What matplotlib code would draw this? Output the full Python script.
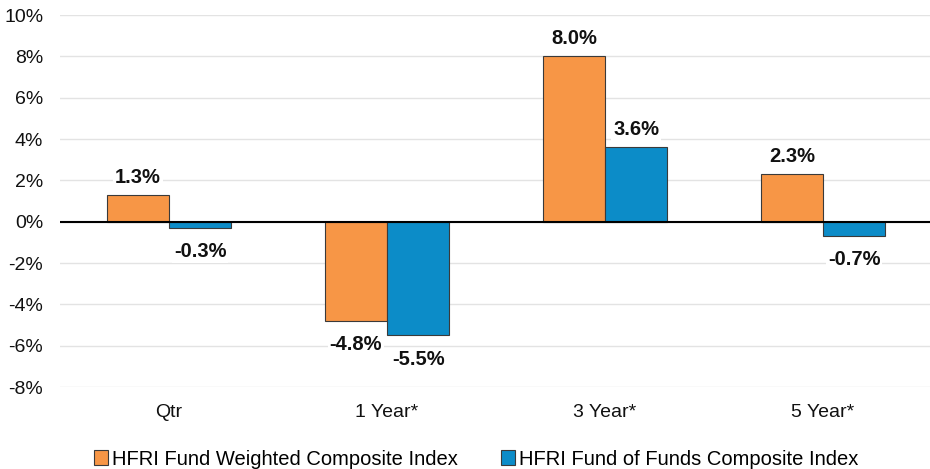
import matplotlib
matplotlib.use("Agg")
import matplotlib.pyplot as plt
import numpy as np

categories = ["Qtr", "1 Year*", "3 Year*", "5 Year*"]
fund_weighted = [1.3, -4.8, 8.0, 2.3]
fund_of_funds = [-0.3, -5.5, 3.6, -0.7]
series_names = ["HFRI Fund Weighted Composite Index", "HFRI Fund of Funds Composite Index"]
yticks = [-8, -6, -4, -2, 0, 2, 4, 6, 8, 10]

plt.rcParams['font.family'] = ['Liberation Sans', 'DejaVu Sans']

fig = plt.figure(figsize=(9.3, 4.69), dpi=100)
ax = fig.add_axes([60/930, 1 - 387/469, 1 - 60/930 + 2/930, (387 - 15)/469])

x = np.arange(len(categories))
w = 0.285
colors = ["#F79646", "#0C8CC8"]
b1 = ax.bar(x - w/2, fund_weighted, w, color=colors[0], edgecolor="#3a3a3a", linewidth=0.8, label=series_names[0], zorder=3)
b2 = ax.bar(x + w/2, fund_of_funds, w, color=colors[1], edgecolor="#3a3a3a", linewidth=0.8, label=series_names[1], zorder=3)

for bars, vals in ((b1, fund_weighted), (b2, fund_of_funds)):
    for b, v in zip(bars, vals):
        off = 0.85 if v >= 0 else -1.15
        ax.text(b.get_x() + b.get_width()/2, v + off, f"{v:.1f}%", ha="center", va="center",
                fontsize=14.5, fontweight="bold", color="#111111", zorder=4,
                bbox=dict(facecolor="white", edgecolor="none", pad=1.5))

ax.set_ylim(-8, 10)
ax.set_xlim(-0.5, 3.5)
ax.set_yticks(yticks)
ax.set_yticklabels([f"{t}%" for t in yticks])
ax.set_xticks(x)
ax.set_xticklabels(categories)
ax.tick_params(axis="both", length=0, labelsize=14, colors="#111111")
ax.tick_params(axis="x", pad=12)
ax.tick_params(axis="y", pad=12)
ax.grid(axis="y", color="#e3e3e3", linewidth=1, zorder=0)
ax.axhline(0, color="black", linewidth=1.5, zorder=4)
for s in ax.spines.values():
    s.set_visible(False)

leg = fig.legend(handles=[b1, b2], labels=series_names, loc="center", bbox_to_anchor=(0.512, 1 - 459/469),
                 ncol=2, frameon=False, handlelength=0.7, handleheight=0.7,
                 handletextpad=0.2, columnspacing=2.1, prop={'family': ['Liberation Sans', 'DejaVu Sans'], 'size': 14.5})

fig.savefig("out.png", dpi=100)
